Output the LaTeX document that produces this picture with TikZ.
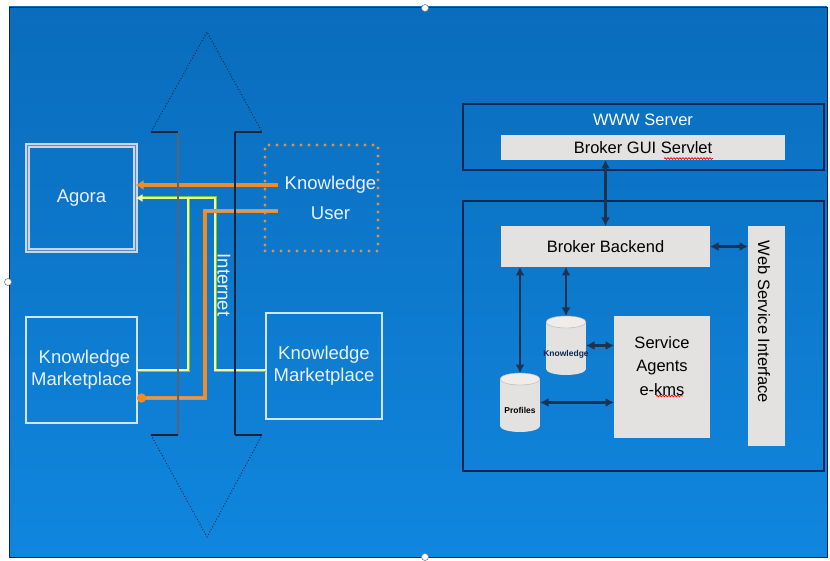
\documentclass[tikz,border=0pt]{standalone}
\usepackage{fontspec}
\setmainfont{Liberation Sans}
\usetikzlibrary{arrows.meta,decorations.pathmorphing}
\definecolor{bgtop}{RGB}{10,108,188}
\definecolor{bgbot}{RGB}{16,134,222}
\definecolor{boxgray}{RGB}{228,226,224}
\definecolor{cyltop}{RGB}{240,236,232}
\definecolor{navyline}{RGB}{12,38,84}
\definecolor{arrnavy}{RGB}{30,50,78}
\definecolor{lbltext}{RGB}{232,242,255}
\definecolor{kmline}{RGB}{210,228,245}
\definecolor{orng}{RGB}{240,140,40}
\definecolor{tangray}{RGB}{190,160,130}
\definecolor{ygreen}{RGB}{120,200,60}
\definecolor{ylight}{RGB}{245,250,150}
\definecolor{dotor}{RGB}{214,150,80}
\definecolor{shaftgray}{RGB}{84,98,122}
\definecolor{shaftdark}{RGB}{22,36,58}
\definecolor{agoraline}{RGB}{200,214,230}
\definecolor{agoragap}{RGB}{90,140,200}
\tikzset{
  lbl/.style={text=lbltext, font=\fontsize{18.5}{22}\selectfont, align=center},
  kmbox/.style={draw=kmline, line width=1.4pt, inner sep=0pt, outer sep=0pt},
  graybox/.style={fill=boxgray, draw=none, inner sep=0pt, outer sep=0pt, text=black, font=\fontsize{16.5}{20}\selectfont},
  navybox/.style={draw=navyline, line width=1.8pt, inner sep=0pt, outer sep=0pt},
  darrow/.style={draw=arrnavy, line width=2.2pt, {Latex[length=8.5pt,width=9pt]}-{Latex[length=8.5pt,width=9pt]}},
  cylbox/.style={minimum width=40, minimum height=59, inner sep=0pt, outer sep=0pt},
  cyllbl/.style={font=\fontsize{8.5}{9}\bfseries\selectfont},
  handle/.style={draw=gray, fill=white, line width=0.6pt},
  squig/.style={draw=red, line width=0.7pt, decorate, decoration={snake, amplitude=0.9pt, segment length=3pt}},
  dotline/.style={draw=shaftdark, line width=0.9pt, dotted},
}
\begin{document}
\begin{tikzpicture}[x=1pt,y=-1pt]
\fill[white] (0,0) rectangle (830,561);
\useasboundingbox (0,0) rectangle (830,561);
\shade[top color=bgtop, bottom color=bgbot, draw=navyline, line width=0.8pt] (9,7) rectangle (827,557);

% ---------- left part ----------
\node[draw=agoraline, line width=1.7pt, double=agoragap, double distance=1.4pt,
      minimum width=108, minimum height=105, inner sep=0pt, outer sep=0pt, lbl] (agora) at (81.5,198) {Agora};
\node[draw=dotor, line width=3.4pt, dash pattern=on 0pt off 8pt, line cap=round,
      minimum width=113, minimum height=106, inner sep=0pt, outer sep=0pt,
      label={[lbl, xshift=9pt, align=center]center:{Knowledge\\[8pt]User}}] (ku) at (321.5,198) {};
\node[kmbox, minimum width=111, minimum height=106, lbl] (lkm) at (81.5,370) {\hspace*{6pt}Knowledge\\Marketplace};
\node[kmbox, minimum width=116, minimum height=106, lbl] (rkm) at (324,366) {Knowledge\\Marketplace};

\coordinate (kuA) at (278,185);
\coordinate (kuB) at (278,211);
\coordinate (yA) at (188,198);
\coordinate (yB) at (215,198);
\coordinate (yL) at (0,370);
\coordinate (tB) at (205,398);

% yellow-green links
\draw[ygreen, line width=3pt, shorten >=6pt] (rkm.west |- yL) -| (yB) -- (agora.east |- yB);
\draw[ygreen, line width=3pt] (yA) |- (lkm.east |- yL);
\draw[ylight, line width=1.4pt] (yA) |- (lkm.east |- yL);
\draw[ylight, line width=1.4pt, -{Latex[length=7pt,width=8pt]}] (rkm.west |- yL) -| (yB) -- (agora.east |- yB);

% orange links
\draw[orng, line width=3.2pt, -{Latex[length=8pt,width=10pt]}] (kuA) -- (agora.east |- kuA);
\draw[orng, line width=3.2pt, -{Circle[length=9pt]}] (kuB) -| (tB) -- (lkm.east |- tB);
\draw[tangray, line width=1.6pt] (kuB) -- (tB |- kuB);
\draw[tangray, line width=1.6pt] (tB) -- ([xshift=9pt]lkm.east |- tB);

% Internet double arrow
\draw[shaftgray, line width=2.4pt] (178,132) -- (178,435);
\draw[shaftdark, line width=1.4pt] (235,132) -- (235,435);
\draw[shaftdark, line width=1.4pt] (151,132) -- (178,132) (235,132) -- (262,132);
\draw[shaftdark, line width=1.4pt] (151,435) -- (178,435) (235,435) -- (262,435);
\draw[dotline] (151,132) -- (207,32) -- (262,132);
\draw[dotline] (151,435) -- (207,537) -- (262,435);
\node[lbl, rotate=-90] (inet) at (224,285) {Internet};

% ---------- right part ----------
\node[navybox, minimum width=361, minimum height=66] (www) at (643.5,137) {};
\node[text=white, font=\fontsize{16.5}{20}\selectfont] (wwwlbl) at (643,120) {WWW Server};
\node[graybox, minimum width=284, minimum height=25] (bgs) at (643,147.5) {Broker GUI Servlet};
\draw[squig] (664,158.5) -- (713,158.5);

\node[navybox, minimum width=361, minimum height=270] (host) at (643.5,336) {};
\node[graybox, minimum width=209, minimum height=41] (bb) at (605.5,246.5) {Broker Backend};
\node[graybox, minimum width=37, minimum height=220] (wsi) at (766.5,336) {};
\node[rotate=-90, text=black, font=\fontsize{16.5}{20}\selectfont] (wsilbl) at (764,322) {Web Service Interface};
\node[graybox, minimum width=96, minimum height=122] (sa) at (662,377) {};
\node[text=black, font=\fontsize{16.5}{23.5}\selectfont, align=center] (salbl) at (662,366) {Service\\Agents\\e-kms};
\draw[squig] (656,396) -- (683,396);

% cylinders
\node[cylbox] (kcyl) at (566,345.5) {};
\node[cylbox] (pcyl) at (520,402.5) {};
\foreach \c in {kcyl,pcyl}{
  \fill[boxgray] ([yshift=-6pt]\c.north west) rectangle ([yshift=6pt]\c.south east);
  \fill[boxgray] ([yshift=6pt]\c.south) ellipse [x radius=20pt, y radius=6pt];
  \fill[cyltop, draw=gray!60, line width=0.4pt] ([yshift=-6pt]\c.north) ellipse [x radius=20pt, y radius=6pt];
}
\node[cyllbl, text=navyline] (klbl) at (566,354) {Knowledge};
\node[cyllbl, text=black] (plbl) at (520,410) {Profiles};

% navy connectors
\draw[darrow] (bb.north |- bgs.south) -- (bb.north);
\draw[darrow] (bb.east) -- (wsi.west |- bb.east);
\draw[darrow] (bb.south -| kcyl.north) -- (kcyl.north);
\draw[darrow] (bb.south -| pcyl.north) -- (pcyl.north);
\draw[darrow] (kcyl.east) -- (sa.west |- kcyl.east);
\draw[darrow] (pcyl.east) -- (sa.west |- pcyl.east);

% selection handles
\draw[handle] (425,8) circle (3.5pt);
\draw[handle] (425,557) circle (3.5pt);
\draw[handle] (8,282) circle (3.5pt);
\end{tikzpicture}
\end{document}
